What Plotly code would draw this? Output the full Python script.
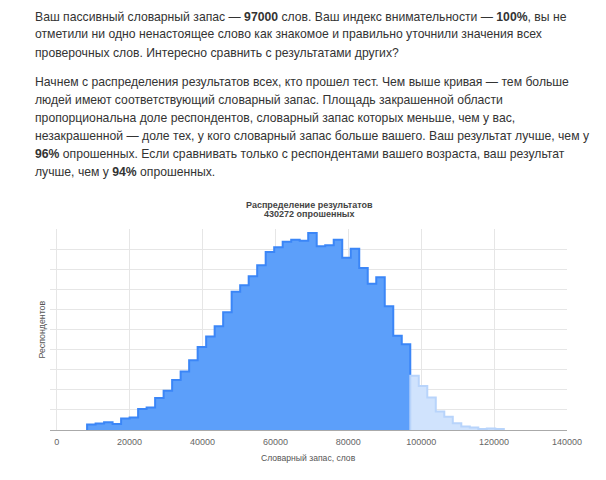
import plotly.graph_objects as go

# vocabulary histogram: bin edges (words) and respondents per bin
bin_edges = [8333, 10667, 13000, 15333, 17667, 20000, 22333, 24667, 27000, 29333,
             31667, 34000, 36333, 38667, 41000, 43333, 45667, 48000, 50333, 52667,
             55000, 57333, 59667, 62000, 64333, 66667, 69000, 71333, 73667, 76000,
             78333, 80667, 83000, 85333, 87667, 90000, 92333, 94667, 97000, 99333,
             101667, 104000, 106333, 108667, 111000, 113333, 115667, 118000, 120333, 122667]
respondents = [540, 640, 760, 600, 1150, 1250, 2090, 2250, 3180, 3910,
               4970, 5820, 6950, 8250, 9300, 10330, 11720, 13750, 14410, 15300,
               16390, 17720, 18180, 18720, 18940, 18820, 19610, 18280, 18380, 18940,
               17130, 18040, 16130, 14560, 15200, 12320, 9380, 8540, 5400, 4370,
               3240, 1850, 1330, 660, 340, 260, 100, 160, 100]
x_ticks = [0, 20000, 40000, 60000, 80000, 100000, 120000, 140000]
user_score = 97000
total_respondents = 430272

paragraph_1 = [
    "Ваш пассивный словарный запас — <b>97000</b> слов. Ваш индекс внимательности — <b>100%</b>, вы не",
    "отметили ни одно ненастоящее слово как знакомое и правильно уточнили значения всех",
    "проверочных слов. Интересно сравнить с результатами других?",
]
paragraph_2 = [
    "Начнем с распределения результатов всех, кто прошел тест. Чем выше кривая — тем больше",
    "людей имеют соответствующий словарный запас. Площадь закрашенной области",
    "пропорциональна доле респондентов, словарный запас которых меньше, чем у вас,",
    "незакрашенной — доле тех, у кого словарный запас больше вашего. Ваш результат лучше, чем у",
    "<b>96%</b> опрошенных. Если сравнивать только с респондентами вашего возраста, ваш результат",
    "лучше, чем у <b>94%</b> опрошенных.",
]

# the page body has an 8px margin, so the figure is drawn 8px in from the corner
OFF = 8
W, H = 590, 464
L, R, T, B = 42, 31, 221, 42
pw, ph = W - L - R, H - T - B


def px(x):
    # page pixel -> paper x
    return (x - OFF - L) / pw


def py(y):
    # page pixel -> paper y
    return (H - B - (y - OFF)) / ph


def step_xy(edges, counts):
    xs = [edges[0]] + list(edges[:-1]) + [edges[-1]]
    ys = [0] + list(counts) + [0]
    return xs, ys


n_below = sum(1 for e in bin_edges[1:] if e <= user_score)

fig = go.Figure()

xs, ys = step_xy(bin_edges[:n_below + 1], respondents[:n_below])
fig.add_trace(go.Scatter(x=xs, y=ys, mode="lines", line=dict(shape="hv", color="#3b86f7", width=2),
                         fill="tozeroy", fillcolor="#5c9ffa", hoverinfo="skip"))

xs, ys = step_xy(bin_edges[n_below:], respondents[n_below:])
fig.add_trace(go.Scatter(x=xs, y=ys, mode="lines", line=dict(shape="hv", color="#b8d4fb", width=2),
                         fill="tozeroy", fillcolor="#d0e3fd", hoverinfo="skip"))

text_font = dict(family="Liberation Sans", size=12.2, color="#333333")
annotations = []
line_y = [16.7, 34.5, 52.7, 81.7, 100, 118, 135.8, 153.6, 171.7]
for txt, y in zip(paragraph_1 + paragraph_2, line_y):
    annotations.append(dict(text=txt, x=px(33), y=py(y), xref="paper", yref="paper",
                            xanchor="left", yanchor="middle", showarrow=False, font=text_font))

chart_font = dict(family="Liberation Sans", size=9, color="#444444")
annotations.append(dict(text="<b>Распределение результатов</b>", x=px(309), y=py(205),
                        xref="paper", yref="paper", xanchor="center", yanchor="middle",
                        showarrow=False, font=chart_font))
annotations.append(dict(text="<b>%d опрошенных</b>" % total_respondents, x=px(309), y=py(214.3),
                        xref="paper", yref="paper", xanchor="center", yanchor="middle",
                        showarrow=False, font=chart_font))
annotations.append(dict(text="Словарный запас, слов", x=px(308), y=py(458), xref="paper", yref="paper",
                        xanchor="center", yanchor="middle", showarrow=False,
                        font=dict(family="Liberation Sans", size=8.6, color="#555555")))
annotations.append(dict(text="Респондентов", x=px(41.5), y=py(330), xref="paper", yref="paper",
                        xanchor="center", yanchor="middle", showarrow=False, textangle=-90,
                        font=dict(family="Liberation Sans", size=8.8, color="#555555")))

fig.update_layout(
    width=W, height=H,
    margin=dict(l=L, r=R, t=T, b=B),
    paper_bgcolor="white", plot_bgcolor="white",
    showlegend=False,
    annotations=annotations,
    xaxis=dict(range=[-1840, 140000], tickvals=x_ticks, tickformat="d", showgrid=True,
               gridcolor="#e6e6e6", gridwidth=1, zeroline=False, showline=True,
               linecolor="#aaaaaa", linewidth=1, ticks="", ticklabelstandoff=3,
               tickfont=dict(family="Liberation Sans", size=9, color="#666666")),
    yaxis=dict(range=[0, 20000], dtick=2000, showticklabels=False, showgrid=True,
               gridcolor="#e6e6e6", gridwidth=1, zeroline=False, ticks=""),
)

fig.write_html("out.html")
